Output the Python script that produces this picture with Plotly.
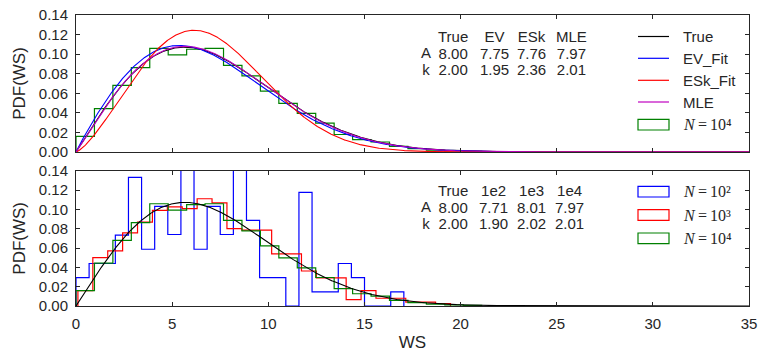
import numpy as np
import plotly.graph_objects as go

# ---------------- data ----------------
# Weibull parameters (top panel: fits of the N=1e4 sample)
fit_names = ["True", "EV", "ESk", "MLE"]
fit_A = [8.00, 7.75, 7.76, 7.97]
fit_k = [2.00, 1.95, 2.36, 2.01]
fit_labels = ["True", "EV_Fit", "ESk_Fit", "MLE"]

# bottom panel: MLE of samples of different size
size_names = ["True", "1e2", "1e3", "1e4"]
size_A = [8.00, 7.71, 8.01, 7.97]
size_k = [2.00, 1.90, 2.02, 2.01]

# histograms (stairs): first edge, bin width, bin heights
hist_1e2_start, hist_1e2_width = 0.0, 0.682
hist_1e2 = [0.0293, 0.0440, 0.0440, 0.0733, 0.1330, 0.0587, 0.1030, 0.0740,
            0.1466, 0.0587, 0.1030, 0.0740, 0.1466, 0.0885, 0.0293, 0.0293,
            0.0, 0.1175, 0.0147, 0.0147, 0.0440, 0.0293, 0.0, 0.0, 0.0147]

hist_1e3_start, hist_1e3_width = 0.10, 0.775
hist_1e3 = [0.0160, 0.0500, 0.0570, 0.0757, 0.0868, 0.0990, 0.1026, 0.1008,
            0.1110, 0.1067, 0.0800, 0.0785, 0.0785, 0.0540, 0.0540, 0.0362,
            0.0290, 0.0290, 0.0066, 0.0160, 0.0080, 0.0080, 0.0040, 0.0040,
            0.0026]

hist_1e4_start, hist_1e4_width = 0.0, 0.959
hist_1e4 = [0.0160, 0.0444, 0.0680, 0.0862, 0.1058, 0.0993, 0.1050, 0.1058,
            0.0885, 0.0778, 0.0622, 0.0497, 0.0395, 0.0295, 0.0179, 0.0127,
            0.0102, 0.0058, 0.0034, 0.0019, 0.0012, 0.0006]

x_ticks = [0, 5, 10, 15, 20, 25, 30, 35]
y_ticks = [0.00, 0.02, 0.04, 0.06, 0.08, 0.10, 0.12, 0.14]

# ---------------- styling ----------------
W, H = 768, 352
ML, MR, MT, MB = 76, 19, 15, 46
PW, PH = W - ML - MR, H - MT - MB
FONT = "Liberation Sans, Arial, sans-serif"
SERIF = "Liberation Serif, DejaVu Serif, serif"
TXT = "#262626"

fit_colors = ["#000000", "#0000ff", "#ff0000", "#bf00bf"]
c_1e2, c_1e3, c_1e4 = "#0000ff", "#ff0000", "#008000"
SUP = {2: "\u00b2", 3: "\u00b3", 4: "\u2074"}


def weibull(x, A, k):
    return (k / A) * (x / A) ** (k - 1) * np.exp(-(x / A) ** k)


def stairs(start, width, heights):
    edges = [start + i * width for i in range(len(heights) + 1)]
    xs = [edges[0]] + edges
    ys = [0.0] + list(heights) + [0.0]
    return xs, ys


def px(xp):
    return (xp - ML) / PW


def py(yp):
    return (H - MB - yp) / PH


xg = np.linspace(0, 35, 1401)

fig = go.Figure()

# ---- top panel ----
xs, ys = stairs(hist_1e4_start, hist_1e4_width, hist_1e4)
fig.add_trace(go.Scatter(x=xs, y=ys, mode="lines", line=dict(color=c_1e4, width=1.2, shape="hv"),
                         xaxis="x", yaxis="y", showlegend=False, hoverinfo="skip"))
for A, k, c in zip(fit_A, fit_k, fit_colors):
    fig.add_trace(go.Scatter(x=xg, y=weibull(xg, A, k), mode="lines", line=dict(color=c, width=1.1),
                             xaxis="x", yaxis="y", showlegend=False))

# ---- bottom panel ----
for (s, w, h), c in zip([(hist_1e2_start, hist_1e2_width, hist_1e2),
                         (hist_1e3_start, hist_1e3_width, hist_1e3),
                         (hist_1e4_start, hist_1e4_width, hist_1e4)],
                        [c_1e2, c_1e3, c_1e4]):
    xs, ys = stairs(s, w, h)
    fig.add_trace(go.Scatter(x=xs, y=ys, mode="lines", line=dict(color=c, width=1.2, shape="hv"),
                             xaxis="x2", yaxis="y2", showlegend=False, hoverinfo="skip"))
fig.add_trace(go.Scatter(x=xg, y=weibull(xg, size_A[0], size_k[0]), mode="lines",
                         line=dict(color="#000000", width=1.1), xaxis="x2", yaxis="y2", showlegend=False))

ax_common = dict(range=[0, 35], tickvals=x_ticks, ticks="inside", ticklen=4, tickcolor=TXT,
                 showline=True, linecolor=TXT, linewidth=1, mirror="ticks", showgrid=False,
                 zeroline=False, tickfont=dict(family=FONT, size=15, color=TXT))
ay_common = dict(range=[0, 0.14], tickvals=y_ticks, tickformat=".2f", ticks="inside", ticklen=4,
                 tickcolor=TXT, showline=True, linecolor=TXT, linewidth=1, mirror="ticks",
                 showgrid=False, zeroline=False, tickfont=dict(family=FONT, size=15, color=TXT),
                 ticklabelstandoff=4,
                 title=dict(text="PDF(WS)", font=dict(family=FONT, size=17, color=TXT), standoff=8))

top_dom = [py(152), 1.0]
bot_dom = [0.0, py(170.7)]

fig.update_layout(
    width=W, height=H, margin=dict(l=ML, r=MR, t=MT, b=MB, autoexpand=False),
    paper_bgcolor="white", plot_bgcolor="white", showlegend=False,
    xaxis=dict(ax_common, anchor="y", domain=[0, 1], showticklabels=False),
    yaxis=dict(ay_common, anchor="x", domain=top_dom),
    xaxis2=dict(ax_common, anchor="y2", domain=[0, 1], ticklabelstandoff=4,
                title=dict(text="WS", font=dict(family=FONT, size=17, color=TXT), standoff=9)),
    yaxis2=dict(ay_common, anchor="x2", domain=bot_dom),
)

ann = []
shapes = []
ROW_STEP = 16.6   # px between table rows
LINE_FS = ROW_STEP / 1.3  # annotation base size giving that line spacing


def text(x, y, s, xanchor="center", family=FONT, size=15):
    ann.append(dict(x=px(x), y=py(y), xref="paper", yref="paper", text=s, showarrow=False,
                    xanchor=xanchor, yanchor="middle", font=dict(family=family, size=size, color=TXT)))


def column(x, y_mid, lines):
    body = "<br>".join(f"<span style='font-size:15px'>{s}</span>" for s in lines)
    ann.append(dict(x=px(x), y=py(y_mid), xref="paper", yref="paper", text=body, showarrow=False,
                    xanchor="center", yanchor="middle", align="center",
                    font=dict(family=FONT, size=LINE_FS, color=TXT)))


# ---- parameter tables ----
row_lab_x = 426
col_x_top = [453, 494, 531, 571]
for cx, name, A, k in zip(col_x_top, fit_names, fit_A, fit_k):
    column(cx, 52.9, [name, f"{A:.2f}", f"{k:.2f}"])
column(row_lab_x, 61.2, ["A", "k"])

col_x_bot = [453, 493, 531, 569]
for cx, name, A, k in zip(col_x_bot, size_names, size_A, size_k):
    column(cx, 207.1, [name, f"{A:.2f}", f"{k:.2f}"])
column(row_lab_x, 215.4, ["A", "k"])

# ---- legends (drawn) ----
lx0, lx1, ltx = 638, 669, 681
top_rows = [36.5, 58.3, 80.3, 102.0]
for yv, lab, c in zip(top_rows, fit_labels, fit_colors):
    shapes.append(dict(type="line", xref="paper", yref="paper", x0=px(lx0), x1=px(lx1),
                       y0=py(yv), y1=py(yv), line=dict(color=c, width=1.2)))
    text(ltx, yv, lab, xanchor="left")


def rect_entry(yv, c, p):
    shapes.append(dict(type="rect", xref="paper", yref="paper", x0=px(lx0), x1=px(lx1),
                       y0=py(yv + 5.3), y1=py(yv - 5.3), line=dict(color=c, width=1.2),
                       fillcolor="rgba(0,0,0,0)"))
    ann.append(dict(x=px(ltx), y=py(yv), xref="paper", yref="paper", showarrow=False,
                    xanchor="left", yanchor="middle",
                    text=f"<span style='font-style:italic;font-size:16px'>N</span>"
                         f"\u2009=\u200910{SUP[p]}",
                    font=dict(family=SERIF, size=16, color=TXT)))


rect_entry(124.7, c_1e4, 4)
for yv, c, p in zip([191.7, 215.0, 238.3], [c_1e2, c_1e3, c_1e4], [2, 3, 4]):
    rect_entry(yv, c, p)

fig.update_layout(annotations=ann, shapes=shapes)
fig.write_html("out.html")
